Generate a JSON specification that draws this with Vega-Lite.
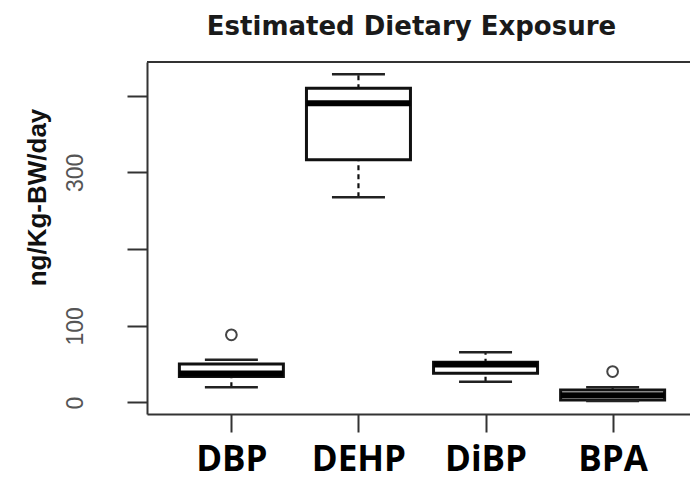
{
  "$schema": "https://vega.github.io/schema/vega-lite/v6.json",
  "autosize": {"type": "none"},
  "padding": {"left": 147, "top": 62, "right": 0, "bottom": 67},
  "width": 543,
  "height": 352,
  "background": "white",
  "title": {
    "text": "Estimated Dietary Exposure",
    "font": "DejaVu Sans",
    "fontWeight": "bold",
    "fontSize": 26,
    "color": "#1a1a1a",
    "baseline": "alphabetic",
    "frame": "group",
    "anchor": "middle",
    "offset": 0,
    "dx": -7
  },
  "datasets": {
    "stats": [
      {"chem": "DBP", "lower": 19.9, "q1": 34, "median": 37.9, "q3": 50.3, "upper": 55.6},
      {"chem": "DEHP", "lower": 267.7, "q1": 316.6, "median": 390.2, "q3": 409.8, "upper": 428.1},
      {"chem": "DiBP", "lower": 27.2, "q1": 38.2, "median": 49.7, "q3": 52.5, "upper": 65.6},
      {"chem": "BPA", "lower": 2, "q1": 3.3, "median": 9.5, "q3": 16.3, "upper": 19.9}
    ],
    "outliers": [
      {"chem": "DBP", "value": 88.2},
      {"chem": "BPA", "value": 40.3}
    ]
  },
  "encoding": {
    "x": {
      "field": "chem",
      "type": "nominal",
      "sort": ["DBP", "DEHP", "DiBP", "BPA"],
      "scale": {"type": "point", "padding": 0.664, "range": [0, 550]},
      "title": null
    }
  },
  "layer": [
    {
      "data": {"name": "stats"},
      "mark": {"type": "rule", "strokeDash": [5, 4], "strokeWidth": 2.2, "color": "#111", "opacity": 1},
      "encoding": {
        "y": {"field": "lower", "type": "quantitative", "title": "ng/Kg-BW/day",
              "scale": {"domain": [-15, 444], "nice": false, "zero": false},
              "axis": {"values": [0, 100, 200, 300, 400]}},
        "y2": {"field": "upper"}
      }
    },
    {
      "data": {"name": "stats"},
      "mark": {"type": "bar", "fill": "white", "stroke": "#111", "strokeWidth": 3, "size": 104, "opacity": 1},
      "encoding": {
        "y": {"field": "q1", "type": "quantitative", "title": "ng/Kg-BW/day"},
        "y2": {"field": "q3"}
      }
    },
    {
      "data": {"name": "stats"},
      "mark": {"type": "tick", "color": "#222", "size": 53, "thickness": 2.5, "opacity": 1},
      "encoding": {
        "y": {"field": "upper", "type": "quantitative", "title": "ng/Kg-BW/day"}
      }
    },
    {
      "data": {"name": "stats"},
      "mark": {"type": "tick", "color": "#222", "size": 53, "thickness": 2.5, "opacity": 1},
      "encoding": {
        "y": {"field": "lower", "type": "quantitative", "title": "ng/Kg-BW/day"}
      }
    },
    {
      "data": {"name": "stats"},
      "mark": {"type": "tick", "color": "#000", "size": 104, "thickness": 6, "opacity": 1},
      "encoding": {
        "y": {"field": "median", "type": "quantitative", "title": "ng/Kg-BW/day"}
      }
    },
    {
      "data": {"name": "outliers"},
      "mark": {"type": "point", "shape": "circle", "filled": false, "size": 115, "strokeWidth": 2, "color": "#444", "opacity": 1},
      "encoding": {
        "y": {"field": "value", "type": "quantitative", "title": "ng/Kg-BW/day"}
      }
    },
    {
      "data": {"name": "stats"},
      "mark": {"type": "rule", "strokeWidth": 2, "color": "#333", "opacity": 1},
      "encoding": {
        "x": null,
        "y": {"datum": 444, "type": "quantitative", "title": "ng/Kg-BW/day"}
      }
    }
  ],
  "config": {
    "view": {"stroke": null},
    "axisY": {
      "labelExpr": "datum.value == 200 || datum.value == 400 ? '' : datum.label",
      "labelAngle": -90,
      "labelAlign": "center",
      "labelBaseline": "alphabetic",
      "labelPadding": 45,
      "labelFont": "Liberation Sans",
      "labelFontSize": 23,
      "labelColor": "#555",
      "labelOverlap": false,
      "tickSize": 20,
      "tickWidth": 2,
      "tickColor": "#333",
      "domainColor": "#333",
      "domainWidth": 2,
      "grid": false,
      "titleFont": "Liberation Sans",
      "titleFontWeight": "bold",
      "titleFontSize": 26,
      "titleColor": "#111",
      "titleAngle": -90,
      "titleAlign": "center",
      "titleBaseline": "alphabetic",
      "titleX": -102,
      "titleY": 135
    },
    "axisX": {
      "labelFont": "Open Sans",
      "labelFontWeight": "bold",
      "labelFontSize": 35,
      "labelColor": "#000",
      "labelAngle": 0,
      "labelPadding": 10,
      "labelOverlap": false,
      "tickSize": 18,
      "tickWidth": 2,
      "tickColor": "#333",
      "domainColor": "#333",
      "domainWidth": 2,
      "grid": false
    }
  }
}
